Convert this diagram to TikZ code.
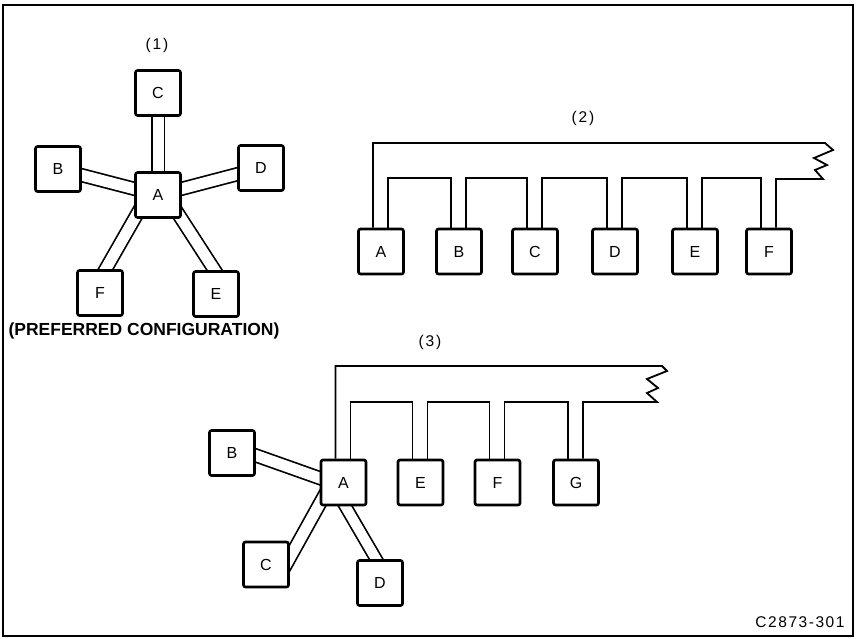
\documentclass[tikz,border=0pt]{standalone}
\usepackage{fontspec}
\setmainfont{Liberation Sans}
\usetikzlibrary{calc,backgrounds}
\tikzset{
  unitbox/.style={draw, line width=2.6pt, rounded corners=2pt, fill=white,
    minimum width=45pt, minimum height=45pt, inner sep=0pt,
    font=\fontsize{16}{16}\selectfont},
  dbl/.style={double, double distance=11pt, line width=1.7pt},
  bus/.style={line width=1.8pt, line join=miter},
  lbl/.style={font=\fontsize{15.5}{15.5}\selectfont\addfontfeature{LetterSpace=12}},
  frame/.style={line width=1.3pt}
}
\begin{document}
\begin{tikzpicture}[x=1pt,y=-1pt]
\useasboundingbox (0,0) rectangle (858,638);
\draw[frame] (3,5) rectangle (853,636);

% ---------- (1) star ----------
\node[lbl] (l1) at (157,45) {(1)};
\node[unitbox] (C1) at (158,93) {C};
\node[unitbox] (A1) at (158,195) {A};
\node[unitbox] (B1) at (58,169) {B};
\node[unitbox] (D1) at (261,168) {D};
\node[unitbox] (F1) at (100,293) {F};
\node[unitbox] (E1) at (216,294) {E};
\node[font=\fontsize{17.5}{17.5}\selectfont\bfseries] (pref) at (144,331) {(PREFERRED CONFIGURATION)};

% ---------- (2) loop ----------
\node[lbl] (l2) at (583,118) {(2)};
\node[unitbox] (A2) at (381,251.5) {A};
\node[unitbox] (B2) at (459,251.5) {B};
\node[unitbox] (C2) at (535,251.5) {C};
\node[unitbox] (D2) at (615,251.5) {D};
\node[unitbox] (E2) at (695,251.5) {E};
\node[unitbox] (F2) at (769,251.5) {F};
\coordinate (z2) at (825,143);

% ---------- (3) mixed ----------
\node[lbl] (l3) at (430,342) {(3)};
\node[unitbox] (A3) at (343.5,482.5) {A};
\node[unitbox] (E3) at (420.5,482.5) {E};
\node[unitbox] (F3) at (497.5,482.5) {F};
\node[unitbox] (G3) at (576,482.5) {G};
\node[unitbox] (B3) at (232,453) {B};
\node[unitbox] (C3) at (266,564.5) {C};
\node[unitbox] (D3) at (380,583) {D};
\coordinate (z3) at (662,366);

\node[font=\fontsize{15.5}{15.5}\selectfont\addfontfeature{LetterSpace=10}] (code) at (800,622) {C2873-301};

\begin{pgfonlayer}{background}
  % star (1)
  \draw[dbl] (C1.center) -- (A1.center);
  \draw[dbl] (B1.center) -- (A1.center);
  \draw[dbl] (D1.center) -- (A1.center);
  \draw[dbl] ($(A1.center)+(-10,0)$) -- ($(F1.center)+(-8,0)$);
  \draw[dbl] ($(A1.center)+(8,0)$) -- ($(E1.center)+(14,0)$);

  % loop (2)
  \draw[bus] ($(A2.north)+(-8,0)$) |- (z2) -- ++(8,7) -- ++(-19,8) -- ++(13,7)
        -- ++(-12,5) -- ++(8,9) -| ($(F2.north)+(7,0)$);
  \draw[bus] ($(A2.north)+(7,0)$) -- ++(0,-50) -| ($(B2.north)+(-8,0)$);
  \draw[bus] ($(B2.north)+(7,0)$) -- ++(0,-50) -| ($(C2.north)+(-8,0)$);
  \draw[bus] ($(C2.north)+(7,0)$) -- ++(0,-50) -| ($(D2.north)+(-8,0)$);
  \draw[bus] ($(D2.north)+(7,0)$) -- ++(0,-50) -| ($(E2.north)+(-8,0)$);
  \draw[bus] ($(E2.north)+(7,0)$) -- ++(0,-50) -| ($(F2.north)+(-8,0)$);

  % mixed (3)
  \draw[bus] ($(A3.north)+(-8,0)$) |- (z3) -- ++(5,5) -- ++(-20,8) -- ++(11,9)
        -- ++(-11,5) -- ++(10,9) -| ($(G3.north)+(7,0)$);
  \draw[bus] ($(A3.north)+(7,0)$) -- ++(0,-57) -| ($(E3.north)+(-8,0)$);
  \draw[bus] ($(E3.north)+(7,0)$) -- ++(0,-57) -| ($(F3.north)+(-8,0)$);
  \draw[bus] ($(F3.north)+(7,0)$) -- ++(0,-57) -| ($(G3.north)+(-8,0)$);
  \draw[dbl] ($(B3.center)+(0,-6)$) -- ($(A3.center)+(0,4)$);
  \draw[dbl, shorten >=-14pt] ($(A3.center)+(-12,0)$) -- ($(C3.center)+(20,0)$);
  \draw[dbl, double distance=10pt] ($(A3.center)+(-12,0)$) -- ($(D3.center)+(10,0)$);
\end{pgfonlayer}
\end{tikzpicture}
\end{document}
